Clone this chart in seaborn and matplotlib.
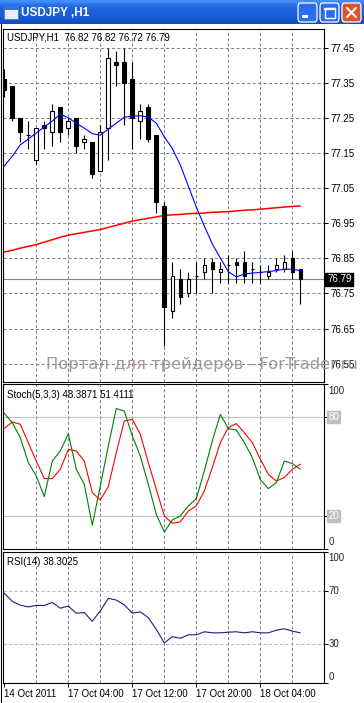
import matplotlib
matplotlib.use("Agg")
import numpy as np
import pandas as pd
import matplotlib.pyplot as plt
import seaborn as sns
import matplotlib.transforms as mtransforms
from matplotlib.patches import Rectangle, FancyBboxPatch
from matplotlib.lines import Line2D

sns.set_theme(style="white")
plt.rcParams["font.family"] = ["Liberation Sans", "DejaVu Sans"]

# ---------------- data ----------------
window_title = "USDJPY ,H1"
header_main = "USDJPY,H1  76.82 76.82 76.72 76.79"
header_stoch = "Stoch(5,3,3) 48.3871 51.4111"
header_rsi = "RSI(14) 38.3025"
watermark = "Портал для трейдеров - ForTrader.ru"

opens = [77.36, 77.34, 77.25, 77.20, 77.13, 77.23, 77.21, 77.28, 77.22, 77.25,
         77.18, 77.18, 77.10, 77.22, 77.41, 77.41, 77.36, 77.24, 77.28, 77.20,
         77.00, 76.70, 76.79, 76.75, 76.80, 76.81, 76.84, 76.81, 76.83, 76.84,
         76.84, 76.82, 76.81, 76.80, 76.82, 76.82, 76.85, 76.82]
highs = [77.39, 77.34, 77.25, 77.24, 77.22, 77.24, 77.29, 77.28, 77.25, 77.25,
         77.20, 77.18, 77.23, 77.45, 77.44, 77.45, 77.41, 77.29, 77.29, 77.20,
         77.01, 76.84, 76.82, 76.81, 76.84, 76.85, 76.85, 76.84, 76.86, 76.85,
         76.87, 76.84, 76.83, 76.83, 76.85, 76.86, 76.87, 76.82]
lows = [77.31, 77.24, 77.18, 77.16, 77.12, 77.16, 77.17, 77.18, 77.20, 77.15,
        77.16, 77.08, 77.10, 77.13, 77.34, 77.23, 77.16, 77.19, 77.18, 76.98,
        76.60, 76.68, 76.72, 76.74, 76.75, 76.79, 76.75, 76.78, 76.78, 76.78,
        76.78, 76.78, 76.78, 76.79, 76.81, 76.81, 76.79, 76.72]
closes = [77.33, 77.25, 77.21, 77.20, 77.22, 77.22, 77.27, 77.21, 77.24, 77.17,
          77.19, 77.09, 77.21, 77.42, 77.40, 77.35, 77.25, 77.27, 77.19, 77.01,
          76.71, 76.80, 76.74, 76.79, 76.80, 76.83, 76.82, 76.82, 76.83, 76.83,
          76.80, 76.82, 76.81, 76.81, 76.83, 76.84, 76.81, 76.79]

ma_fast = [77.113, 77.141, 77.173, 77.190, 77.207, 77.224, 77.241, 77.261, 77.250, 77.235,
           77.221, 77.205, 77.201, 77.218, 77.235, 77.252, 77.255, 77.256, 77.252, 77.235,
           77.196, 77.163, 77.116, 77.056, 76.996, 76.942, 76.891, 76.851, 76.812, 76.797,
           76.805, 76.808, 76.810, 76.812, 76.815, 76.819, 76.819, 76.815]
ma_slow = [76.868, 76.873, 76.879, 76.884, 76.889, 76.896, 76.903, 76.910, 76.916, 76.920,
           76.924, 76.928, 76.932, 76.938, 76.944, 76.950, 76.956, 76.960, 76.964, 76.968,
           76.972, 76.974, 76.975, 76.977, 76.978, 76.979, 76.981, 76.982, 76.983, 76.985,
           76.987, 76.988, 76.990, 76.992, 76.994, 76.996, 76.998, 76.999]

stoch_main = [82.2, 76.6, 67.5, 52.4, 44.2, 31.8, 53.3, 59.4, 69.9, 48.3,
              39.2, 14.4, 38.2, 62.4, 85.1, 83.6, 68.5, 56.4, 39.2, 21.0,
              10.3, 17.6, 20.0, 26.1, 30.5, 47.3, 65.5, 81.6, 73.0, 72.1,
              64.5, 55.4, 42.2, 36.6, 40.2, 53.3, 51.8, 48.4]
stoch_signal = [73.0, 77.0, 75.6, 64.5, 53.3, 42.7, 42.7, 48.3, 60.4, 59.4,
                53.3, 34.2, 29.7, 37.8, 58.4, 77.6, 78.6, 69.5, 52.4, 36.2,
                20.0, 15.6, 16.4, 23.0, 26.1, 35.2, 49.3, 64.5, 73.6, 76.0,
                70.5, 64.5, 54.4, 45.3, 41.2, 43.3, 48.3, 51.4]
rsi = [68.5, 62.3, 59.4, 58.1, 59.2, 59.2, 61.5, 57.1, 58.7, 53.3,
       53.8, 47.1, 55.0, 64.6, 63.3, 59.7, 53.3, 54.3, 49.9, 40.9,
       30.6, 35.4, 34.1, 36.8, 36.8, 39.1, 38.3, 38.3, 38.8, 39.1,
       38.3, 39.1, 38.3, 38.3, 40.3, 41.4, 39.6, 38.3]

price_ticks = [76.55, 76.65, 76.75, 76.85, 76.95, 77.05, 77.15, 77.25, 77.35, 77.45]
grid_bars = [4, 8, 12, 16, 20, 24, 28, 32, 36]
time_label_bars = [0, 8, 16, 24, 32]
time_labels = ["14 Oct 2011", "17 Oct 04:00", "17 Oct 12:00", "17 Oct 20:00", "18 Oct 04:00"]
stoch_levels = [20, 80]
rsi_levels = [30, 70]

# ---------------- figure ----------------
W, H = 364, 703
fig = plt.figure(figsize=(W / 100, H / 100), dpi=100, facecolor="white")

def fx(px):
    return px / W

def fy(py):
    return 1 - py / H

def add_panel(top, bottom):
    return fig.add_axes([fx(3), fy(bottom), fx(324) - fx(3), (bottom - top) / H])

ax_m = add_panel(29, 382)
ax_s = add_panel(384, 549)
ax_r = add_panel(552, 683)

df = pd.DataFrame({"bar": np.arange(len(opens)), "open": opens, "high": highs,
                   "low": lows, "close": closes, "ma_fast": ma_fast, "ma_slow": ma_slow,
                   "stoch_main": stoch_main, "stoch_signal": stoch_signal, "rsi": rsi})

GRID = "#778899"
DASH = (0, (3.0, 2.2))
XLIM = (-0.16, 39.96)

for ax in (ax_m, ax_s, ax_r):
    ax.set_facecolor("white")
    ax.set_xlim(*XLIM)
    for sp in ax.spines.values():
        sp.set_color("black")
        sp.set_linewidth(0.8)
    for b in grid_bars:
        ax.axvline(b, color=GRID, lw=0.75, ls=DASH, zorder=1)
    ax.yaxis.tick_right()
    ax.tick_params(axis="y", which="major", direction="out", length=3, width=0.7,
                   color="black", pad=1.5, labelsize=7, labelcolor="black", left=False, right=True)
    ax.tick_params(axis="x", which="both", bottom=False, labelbottom=False)
    ax.grid(False)

# ---- main price panel ----
ax_m.set_ylim(76.4976, 77.5033)
ax_m.set_yticks(price_ticks)
ax_m.set_yticklabels([f"{p:.2f}" for p in price_ticks])
for p in price_ticks:
    ax_m.axhline(p, color=GRID, lw=0.75, ls=DASH, zorder=1)
ax_m.axhline(closes[-1], color=GRID, lw=0.8, zorder=1.5)

sns.lineplot(data=df, x="bar", y="ma_slow", ax=ax_m, color="#ff0000", linewidth=1.1, zorder=2)
up = df["close"] >= df["open"]
ax_m.vlines(df["bar"], df["low"], df["high"], color="black", linewidth=0.8, zorder=3)
ax_m.bar(df["bar"], (df["close"] - df["open"]).abs(), bottom=np.minimum(df["open"], df["close"]),
         width=0.45, color=np.where(up, "white", "black"), edgecolor="black", linewidth=0.8, zorder=4)
sns.lineplot(data=df, x="bar", y="ma_fast", ax=ax_m, color="#0000ff", linewidth=0.8, zorder=5)
ax_m.set_xlabel("")
ax_m.set_ylabel("")

tr_m = mtransforms.blended_transform_factory(ax_m.transAxes, ax_m.transData)
ax_m.text(1 + 3 / 321, closes[-1], f"{closes[-1]:.2f}", transform=tr_m, ha="left", va="center",
          color="white", fontsize=7, zorder=10,
          bbox=dict(boxstyle="square,pad=0.18", fc="black", ec="black"))
ax_m.text(0.0134, 0.976, header_main, transform=ax_m.transAxes, ha="left", va="center",
          fontsize=7, color="black")

# ---- stochastic panel ----
ax_s.set_ylim(0, 100)
ax_s.set_yticks([0, 20, 80, 100])
ax_s.set_yticklabels([])
for lv in stoch_levels:
    ax_s.axhline(lv, color="#c0c0c0", lw=0.8, zorder=1.5)
sns.lineplot(data=df, x="bar", y="stoch_signal", ax=ax_s, color="#ff0000", linewidth=0.8, zorder=3)
sns.lineplot(data=df, x="bar", y="stoch_main", ax=ax_s, color="#008000", linewidth=0.8, zorder=4)
ax_s.set_xlabel("")
ax_s.set_ylabel("")
tr_s = mtransforms.blended_transform_factory(ax_s.transAxes, ax_s.transData)
xl = 1 + 4.5 / 321
ax_s.text(xl, 99, "100", transform=tr_s, ha="left", va="top", fontsize=7)
ax_s.text(xl, 1, "0", transform=tr_s, ha="left", va="bottom", fontsize=7)
for lv in stoch_levels:
    ax_s.text(xl, lv, str(lv), transform=tr_s, ha="left", va="center", fontsize=7, color="white",
              bbox=dict(boxstyle="square,pad=0.12", fc="#c0c0c0", ec="#c0c0c0"))
ax_s.text(0.0134, 0.933, header_stoch, transform=ax_s.transAxes, ha="left", va="center",
          fontsize=7, color="black")

# ---- RSI panel ----
ax_r.set_ylim(0, 100)
ax_r.set_yticks([0, 30, 70, 100])
ax_r.set_yticklabels([])
for lv in rsi_levels:
    ax_r.axhline(lv, color="#b8b8b8", lw=0.75, ls=DASH, zorder=1.5)
sns.lineplot(data=df, x="bar", y="rsi", ax=ax_r, color="#1e1e80", linewidth=0.8, zorder=3)
ax_r.set_xlabel("")
ax_r.set_ylabel("")
tr_r = mtransforms.blended_transform_factory(ax_r.transAxes, ax_r.transData)
ax_r.text(xl, 99, "100", transform=tr_r, ha="left", va="top", fontsize=7)
ax_r.text(xl, 1, "0", transform=tr_r, ha="left", va="bottom", fontsize=7)
for lv in rsi_levels:
    ax_r.text(xl, lv, str(lv), transform=tr_r, ha="left", va="center", fontsize=7)
ax_r.text(0.0134, 0.924, header_rsi, transform=ax_r.transAxes, ha="left", va="center",
          fontsize=7, color="black")
ax_r.set_xticks(time_label_bars)
ax_r.set_xticklabels(time_labels, ha="left")
ax_r.tick_params(axis="x", which="major", bottom=True, labelbottom=True, direction="out",
                 length=3, width=0.7, color="black", pad=1.5, labelsize=7, labelcolor="black")

# ---- watermark ----
fig.text(fx(46), fy(364), watermark, ha="left", va="center", fontsize=11.8,
         family=["DejaVu Sans"], color="#a89595", zorder=20)

# ---- window chrome ----
ax_t = fig.add_axes([0, fy(24), 1, 24 / H])
ax_t.set_axis_off()
grad = np.array([[0.26, 0.56, 0.97], [0.17, 0.45, 0.92], [0.12, 0.40, 0.88],
                 [0.11, 0.38, 0.86], [0.10, 0.37, 0.85], [0.10, 0.36, 0.84],
                 [0.09, 0.34, 0.82], [0.08, 0.30, 0.76]])
ax_t.imshow(grad[:, None, :], aspect="auto", extent=[0, 1, 0, 1], interpolation="bilinear")
ax_t.set_xlim(0, 1)
ax_t.set_ylim(0, 1)
fig.text(fx(21), fy(12.5), window_title, ha="left", va="center", fontsize=8.5,
         fontweight="bold", color="white", zorder=30)
# icon
fig.add_artist(Rectangle((fx(4), fy(19)), fx(14), 13 / H, transform=fig.transFigure,
                         fc="#e8eef8", ec="#5577aa", lw=0.6, zorder=30))
fig.add_artist(Rectangle((fx(4), fy(10)), fx(14), 4 / H, transform=fig.transFigure,
                         fc="#3a6fd8", ec="none", zorder=31))
# buttons
for x0, col in [(298, "#2b6cf0"), (320, "#2b6cf0"), (342, "#e0542c")]:
    fig.add_artist(FancyBboxPatch((fx(x0), fy(22)), fx(19), 19 / H,
                                  boxstyle="round,pad=0,rounding_size=0.006",
                                  transform=fig.transFigure, fc=col, ec="white", lw=0.9, zorder=30))
fig.add_artist(Rectangle((fx(302), fy(17.5)), fx(6), 2.5 / H, transform=fig.transFigure,
                         fc="white", ec="none", zorder=31))
fig.add_artist(Rectangle((fx(325), fy(17.5)), fx(10), 10 / H, transform=fig.transFigure,
                         fc="none", ec="white", lw=1.0, zorder=31))
fig.add_artist(Line2D([fx(325), fx(335)], [fy(9), fy(9)], transform=fig.transFigure,
                      color="white", lw=1.6, zorder=32))
fig.add_artist(Line2D([fx(347), fx(356)], [fy(8), fy(17)], transform=fig.transFigure,
                      color="white", lw=1.5, zorder=32))
fig.add_artist(Line2D([fx(347), fx(356)], [fy(17), fy(8)], transform=fig.transFigure,
                      color="white", lw=1.5, zorder=32))
# left window edge
fig.add_artist(Line2D([fx(0.5), fx(0.5)], [fy(24), fy(703)], transform=fig.transFigure,
                      color="black", lw=0.8, zorder=30))

fig.savefig("out.png", dpi=100, facecolor="white")
